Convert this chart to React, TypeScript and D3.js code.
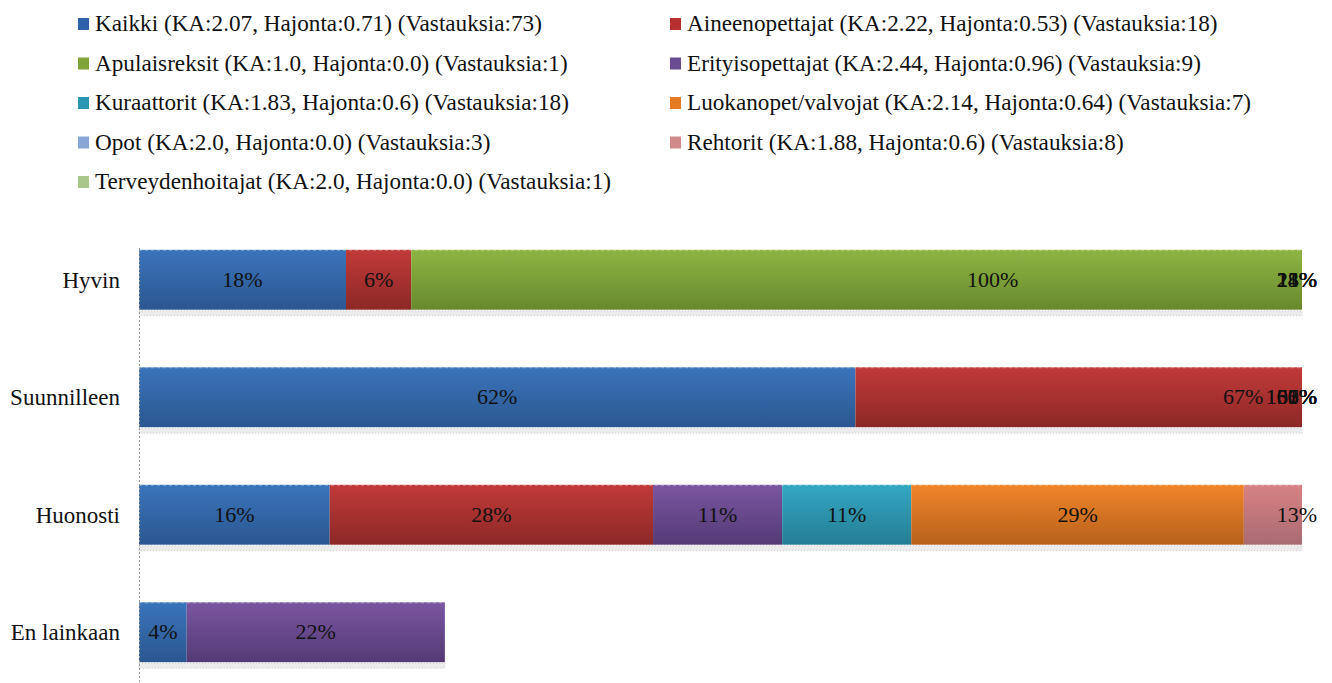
import React, { useEffect, useRef } from 'react';
import * as d3 from 'd3';

const categories = ['Hyvin', 'Suunnilleen', 'Huonosti', 'En lainkaan'];

const seriesNames = [
  'Kaikki (KA:2.07, Hajonta:0.71) (Vastauksia:73)',
  'Aineenopettajat (KA:2.22, Hajonta:0.53) (Vastauksia:18)',
  'Apulaisreksit (KA:1.0, Hajonta:0.0) (Vastauksia:1)',
  'Erityisopettajat (KA:2.44, Hajonta:0.96) (Vastauksia:9)',
  'Kuraattorit (KA:1.83, Hajonta:0.6) (Vastauksia:18)',
  'Luokanopet/valvojat (KA:2.14, Hajonta:0.64) (Vastauksia:7)',
  'Opot (KA:2.0, Hajonta:0.0) (Vastauksia:3)',
  'Rehtorit (KA:1.88, Hajonta:0.6) (Vastauksia:8)',
  'Terveydenhoitajat (KA:2.0, Hajonta:0.0) (Vastauksia:1)',
];

// percentages per category, same order as categories
const kaikki = [17.8, 61.6, 16.4, 4.1];
const aineenopettajat = [5.6, 66.7, 27.8, 0];
const apulaisreksit = [100, 0, 0, 0];
const erityisopettajat = [11.1, 55.6, 11.1, 22.2];
const kuraattorit = [27.8, 61.1, 11.1, 0];
const luokanopet = [14.3, 57.1, 28.6, 0];
const opot = [0, 100, 0, 0];
const rehtorit = [25, 62.5, 12.5, 0];
const terveydenhoitajat = [0, 100, 0, 0];

const seriesValues = [kaikki, aineenopettajat, apulaisreksit, erityisopettajat, kuraattorit, luokanopet, opot, rehtorit, terveydenhoitajat];

// [top, bottom] of gradient, legend color
const palette = [
  ['#3a74bb', '#2b5790', '#2f62a8'],
  ['#c13a39', '#8c2826', '#b3302f'],
  ['#8db543', '#68892d', '#7ea43a'],
  ['#7b56a1', '#543a75', '#6a4a92'],
  ['#34a7c3', '#257d93', '#2b96b2'],
  ['#f18529', '#b6611b', '#e57a22'],
  ['#86a6d6', '#6a86b0', '#8aa6d6'],
  ['#d88283', '#a86b72', '#d08a8a'],
  ['#b0cd82', '#8ea868', '#a9c78a'],
];

const W = 1332;
const H = 683;

export default function App() {
  const ref = useRef<SVGSVGElement>(null);

  useEffect(() => {
    document.body.style.margin = '0';
    if (!ref.current) return;
    const svg = d3.select(ref.current);
    svg.selectAll('*').remove();

    const font = "'Liberation Serif', 'DejaVu Serif', serif";
    const left = 139;
    const right = 1302;

    const x = d3.scaleLinear().domain([0, 100]).range([left, right]);
    const y = d3.scaleBand().domain(categories).range([221, 691]).paddingInner(0.49).paddingOuter(0.245);

    const rows = categories.map((c, i) => {
      const r: any = { cat: c };
      seriesNames.forEach((s, j) => (r[s] = seriesValues[j][i]));
      return r;
    });
    const stacked = d3.stack<any>().keys(seriesNames)(rows);

    const defs = svg.append('defs');
    palette.forEach((p, i) => {
      const g = defs.append('linearGradient').attr('id', 'g' + i).attr('x1', 0).attr('y1', 0).attr('x2', 0).attr('y2', 1);
      g.append('stop').attr('offset', '0%').attr('stop-color', p[0]);
      g.append('stop').attr('offset', '100%').attr('stop-color', p[1]);
    });
    defs.append('clipPath').attr('id', 'plotclip')
      .append('rect').attr('x', left).attr('y', 0).attr('width', right - left).attr('height', H);

    // legend
    const legend = svg.append('g').style('font-family', font).style('font-size', '23.2px');
    seriesNames.forEach((s, i) => {
      const col = i % 2;
      const row = Math.floor(i / 2);
      const lx = col === 0 ? 78 : 670;
      const ly = 31 + row * 39.5;
      legend.append('rect').attr('x', lx).attr('y', ly - 13).attr('width', 11).attr('height', 12).attr('fill', palette[i][2]);
      legend.append('text').attr('x', lx + 17).attr('y', ly).attr('fill', '#111').text(s);
    });

    // shadows under each bar
    const totals = categories.map((_, i) => d3.sum(seriesValues, v => v[i]));
    svg.append('g').selectAll('rect').data(categories).join('rect')
      .attr('x', left)
      .attr('y', d => (y(d) as number) + y.bandwidth() + 1)
      .attr('width', (d, i) => Math.min(x(totals[i]), right) - left)
      .attr('height', 5)
      .attr('fill', '#ebebeb')
      .attr('stroke', '#cfcfcf')
      .attr('stroke-width', 1)
      .attr('stroke-dasharray', '1,2');

    // bars
    const bars = svg.append('g').attr('clip-path', 'url(#plotclip)');
    stacked.forEach((layer, i) => {
      bars.append('g').selectAll('rect').data(layer).join('rect')
        .attr('x', d => x(d[0]))
        .attr('y', d => y(d.data.cat) as number)
        .attr('width', d => Math.max(0, x(d[1]) - x(d[0])))
        .attr('height', y.bandwidth())
        .attr('fill', `url(#g${i})`);
    });
    // light dashed top edge
    bars.append('g').selectAll('line').data(categories).join('line')
      .attr('x1', left)
      .attr('x2', (d, i) => Math.min(x(totals[i]), right))
      .attr('y1', d => (y(d) as number) + 0.5)
      .attr('y2', d => (y(d) as number) + 0.5)
      .attr('stroke', '#ffffff')
      .attr('stroke-opacity', 0.35)
      .attr('stroke-dasharray', '3,3');

    // data labels
    const limit = right + 15;
    const fs = 22;
    const labels = svg.append('g').style('font-family', font).style('font-size', fs + 'px').attr('fill', '#111');
    stacked.forEach(layer => {
      layer.forEach(d => {
        const v = d[1] - d[0];
        if (v <= 0) return;
        const txt = Math.round(v) + '%';
        const w = ((txt.length - 1) * 0.5 + 0.833) * fs;
        const cx = x((d[0] + d[1]) / 2);
        const cy = (y(d.data.cat) as number) + y.bandwidth() / 2 + 7;
        const t = labels.append('text').attr('y', cy).text(txt);
        if (cx + w / 2 > limit) t.attr('x', limit).attr('text-anchor', 'end');
        else t.attr('x', cx).attr('text-anchor', 'middle');
      });
    });

    // y axis
    svg.append('line')
      .attr('x1', left + 0.5).attr('x2', left + 0.5)
      .attr('y1', 248).attr('y2', H)
      .attr('stroke', '#9a9a9a')
      .attr('stroke-dasharray', '2,2');

    svg.append('g').style('font-family', font).style('font-size', '23px')
      .selectAll('text').data(categories).join('text')
      .attr('x', 120)
      .attr('y', d => (y(d) as number) + y.bandwidth() / 2 + 8)
      .attr('text-anchor', 'end')
      .attr('fill', '#111')
      .text(d => d);
  }, []);

  return <svg ref={ref} width={W} height={H} style={{ display: 'block', background: '#fff' }} />;
}
